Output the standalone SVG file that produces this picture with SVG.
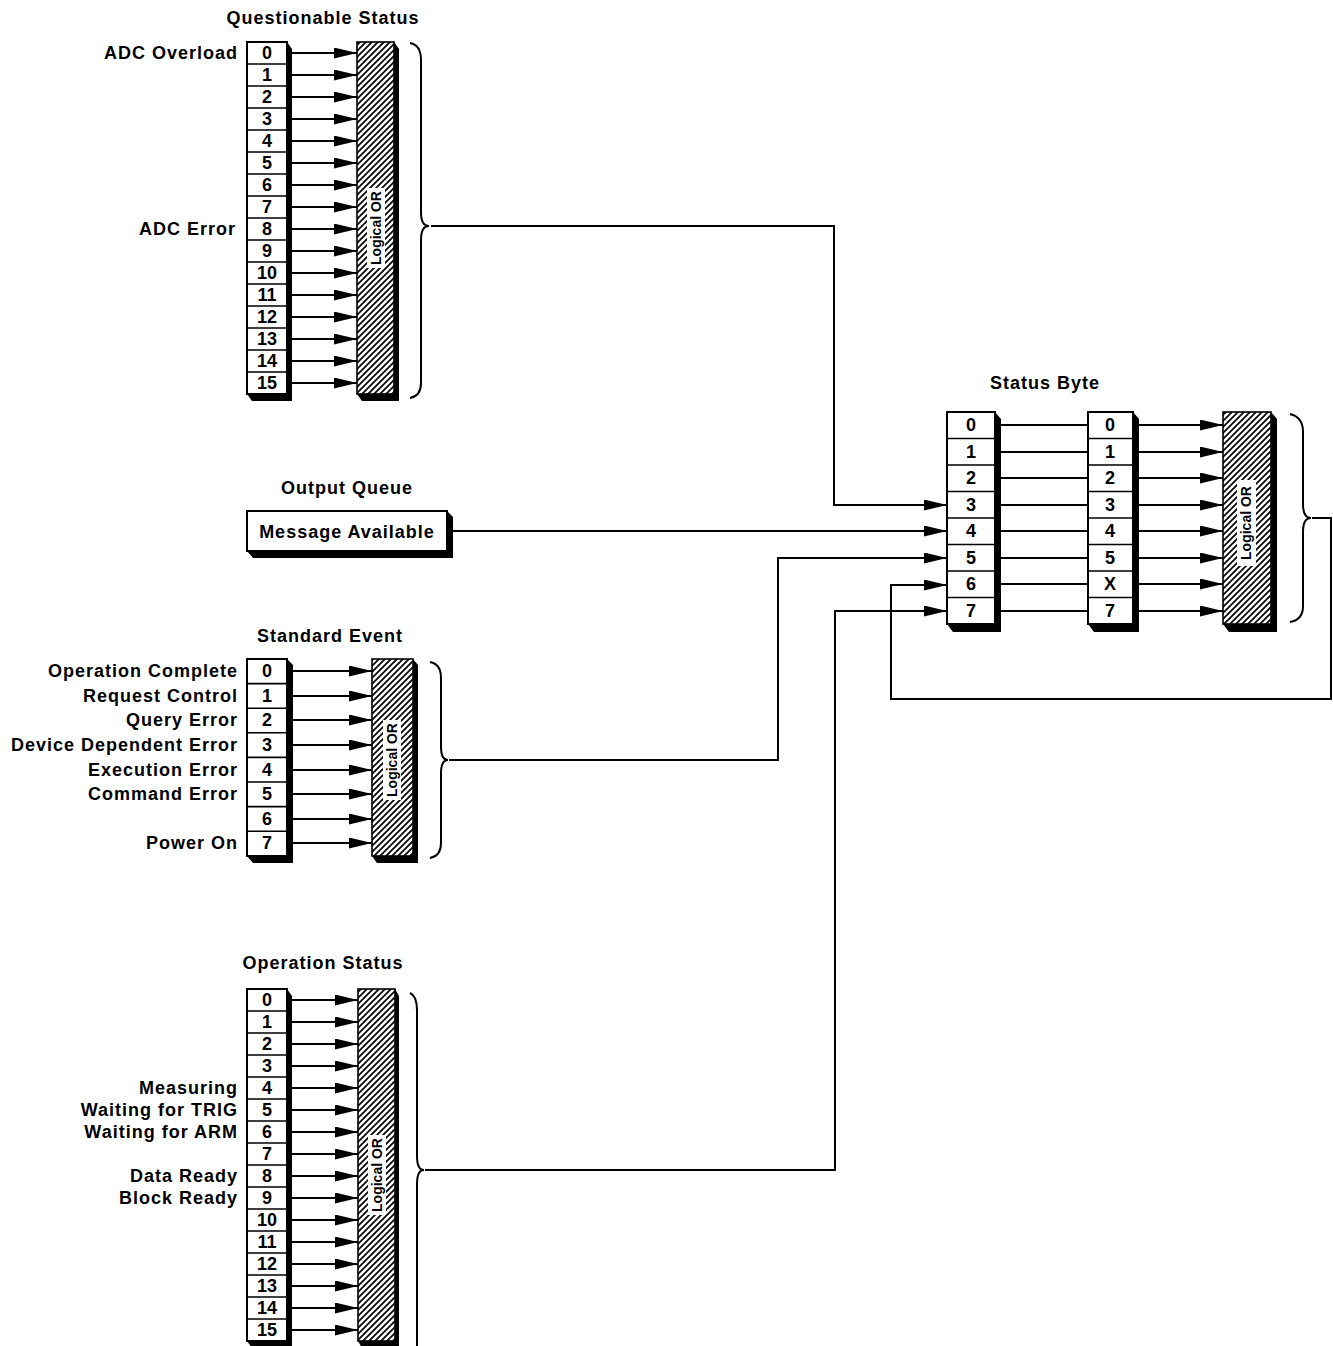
<svg xmlns="http://www.w3.org/2000/svg" width="1333" height="1346" viewBox="0 0 1333 1346">
<defs>
<style>
.t{font-family:"Liberation Sans",Arial,sans-serif;font-weight:bold;font-size:18px;letter-spacing:1px;fill:#000}
.n{font-family:"Liberation Sans",Arial,sans-serif;font-weight:bold;font-size:18px;fill:#000;text-anchor:middle}
.l{text-anchor:end}
.m{text-anchor:middle}
.lo{font-family:"Liberation Sans",Arial,sans-serif;font-weight:bold;font-size:14px;fill:#000;text-anchor:middle}
.box{fill:#fff;stroke:#000;stroke-width:2}
.div{stroke:#000;stroke-width:1.6}
.sh{fill:#000}
.or{fill:url(#hatch);stroke:#000;stroke-width:1.6}
.wb{fill:#fff}
.ln{fill:none;stroke:#000;stroke-width:2}
.ar{fill:none;stroke:#000;stroke-width:2;marker-end:url(#ah)}
.br{fill:none;stroke:#000;stroke-width:2}
</style>
<pattern id="hatch" patternUnits="userSpaceOnUse" width="6" height="6">
<rect width="6" height="6" fill="#fff"/>
<path d="M0,6 L6,0 M-1,1 L1,-1 M5,7 L7,5" stroke="#000" stroke-width="1.7"/>
</pattern>
<marker id="ah" markerUnits="userSpaceOnUse" markerWidth="24" markerHeight="12" refX="23" refY="5.5" orient="auto">
<path d="M0,0 L23,5.5 L0,11 Z" fill="#000"/>
</marker>
</defs>

<g id="questionable-status">
<text class="t m" x="323" y="24">Questionable Status</text>
<text class="t l" x="238" y="59">ADC Overload</text>
<text class="t l" x="236" y="235">ADC Error</text>
<polygon class="sh" points="287,42 292,49 292,401 252,401 247,394"/>
<rect class="box" x="247" y="42" width="40" height="352"/>
<path class="div" d="M247,64H287M247,86H287M247,108H287M247,130H287M247,152H287M247,174H287M247,196H287M247,218H287M247,240H287M247,262H287M247,284H287M247,306H287M247,328H287M247,350H287M247,372H287"/>
<text class="n" x="267" y="59">0</text><text class="n" x="267" y="81">1</text><text class="n" x="267" y="103">2</text><text class="n" x="267" y="125">3</text>
<text class="n" x="267" y="147">4</text><text class="n" x="267" y="169">5</text><text class="n" x="267" y="191">6</text><text class="n" x="267" y="213">7</text>
<text class="n" x="267" y="235">8</text><text class="n" x="267" y="257">9</text><text class="n" x="267" y="279">10</text><text class="n" x="267" y="301">11</text>
<text class="n" x="267" y="323">12</text><text class="n" x="267" y="345">13</text><text class="n" x="267" y="367">14</text><text class="n" x="267" y="389">15</text>
<polygon class="sh" points="394,42 399,49 399,401 362,401 357,394"/>
<rect class="or" x="357" y="42" width="37" height="352"/>
<rect class="wb" x="367" y="188" width="18" height="80"/>
<text class="lo" transform="translate(376,228) rotate(-90)" x="0" y="5">Logical OR</text>
<path class="br" d="M410,43 Q421,45 421,60 L421,212 Q421,226 429,226 Q421,226 421,240 L421,383 Q421,396 410,398"/>
</g>

<g id="output-queue">
<text class="t m" x="347" y="494">Output Queue</text>
<polygon class="sh" points="447,511 453,517 453,558 253,558 247,551"/>
<rect class="box" x="247" y="511" width="200" height="40"/>
<text class="t m" x="347" y="538">Message Available</text>
</g>

<g id="standard-event">
<text class="t m" x="330" y="642">Standard Event</text>
<text class="t l" x="238" y="677">Operation Complete</text>
<text class="t l" x="238" y="702">Request Control</text>
<text class="t l" x="238" y="726">Query Error</text>
<text class="t l" x="238" y="751">Device Dependent Error</text>
<text class="t l" x="238" y="776">Execution Error</text>
<text class="t l" x="238" y="800">Command Error</text>
<text class="t l" x="238" y="849">Power On</text>
<polygon class="sh" points="287,659 293,665 293,863 253,863 247,856"/>
<rect class="box" x="247" y="659" width="40" height="197"/>
<path class="div" d="M247,683.6H287M247,708.2H287M247,732.8H287M247,757.4H287M247,782H287M247,806.6H287M247,831.2H287"/>
<text class="n" x="267" y="677">0</text><text class="n" x="267" y="702">1</text><text class="n" x="267" y="726">2</text><text class="n" x="267" y="751">3</text>
<text class="n" x="267" y="776">4</text><text class="n" x="267" y="800">5</text><text class="n" x="267" y="825">6</text><text class="n" x="267" y="849">7</text>
<polygon class="sh" points="413,659 418,665 418,863 377,863 372,856"/>
<rect class="or" x="372" y="659" width="41" height="197"/>
<rect class="wb" x="383" y="720" width="18" height="80"/>
<text class="lo" transform="translate(392,760) rotate(-90)" x="0" y="5">Logical OR</text>
<path class="br" d="M430,662 Q441,664 441,678 L441,747 Q441,760 448,760 Q441,760 441,773 L441,843 Q441,856 430,858"/>
</g>

<g id="operation-status">
<text class="t m" x="323" y="969">Operation Status</text>
<text class="t l" x="238" y="1094">Measuring</text>
<text class="t l" x="238" y="1116">Waiting for TRIG</text>
<text class="t l" x="238" y="1138">Waiting for ARM</text>
<text class="t l" x="238" y="1182">Data Ready</text>
<text class="t l" x="238" y="1204">Block Ready</text>
<polygon class="sh" points="287,989 292,996 292,1348 252,1348 247,1341"/>
<rect class="box" x="247" y="989" width="40" height="352"/>
<path class="div" d="M247,1011H287M247,1033H287M247,1055H287M247,1077H287M247,1099H287M247,1121H287M247,1143H287M247,1165H287M247,1187H287M247,1209H287M247,1231H287M247,1253H287M247,1275H287M247,1297H287M247,1319H287"/>
<text class="n" x="267" y="1006">0</text><text class="n" x="267" y="1028">1</text><text class="n" x="267" y="1050">2</text><text class="n" x="267" y="1072">3</text>
<text class="n" x="267" y="1094">4</text><text class="n" x="267" y="1116">5</text><text class="n" x="267" y="1138">6</text><text class="n" x="267" y="1160">7</text>
<text class="n" x="267" y="1182">8</text><text class="n" x="267" y="1204">9</text><text class="n" x="267" y="1226">10</text><text class="n" x="267" y="1248">11</text>
<text class="n" x="267" y="1270">12</text><text class="n" x="267" y="1292">13</text><text class="n" x="267" y="1314">14</text><text class="n" x="267" y="1336">15</text>
<polygon class="sh" points="395,989 399,996 399,1348 362,1348 358,1341"/>
<rect class="or" x="358" y="989" width="37" height="352"/>
<rect class="wb" x="368" y="1135" width="18" height="80"/>
<text class="lo" transform="translate(377,1175) rotate(-90)" x="0" y="5">Logical OR</text>
<path class="br" d="M410,993 Q417,996 417,1010 L417,1156 Q417,1170 424,1170 Q417,1170 417,1184 L417,1346"/>
</g>

<g id="status-byte">
<text class="t m" x="1045" y="389">Status Byte</text>
<polygon class="sh" points="995,412 1001,419 1001,632 953,632 947,624"/>
<rect class="box" x="947" y="412" width="48" height="212"/>
<path class="div" d="M947,438.5H995M947,465H995M947,491.5H995M947,518H995M947,544.5H995M947,571H995M947,597.5H995"/>
<text class="n" x="971" y="431">0</text><text class="n" x="971" y="458">1</text><text class="n" x="971" y="484">2</text><text class="n" x="971" y="511">3</text>
<text class="n" x="971" y="537">4</text><text class="n" x="971" y="564">5</text><text class="n" x="971" y="590">6</text><text class="n" x="971" y="617">7</text>
</g>

<g id="status-byte-enable">
<polygon class="sh" points="1133,412 1139,419 1139,632 1094,632 1088,624"/>
<rect class="box" x="1088" y="412" width="45" height="212"/>
<path class="div" d="M1088,438.5H1133M1088,465H1133M1088,491.5H1133M1088,518H1133M1088,544.5H1133M1088,571H1133M1088,597.5H1133"/>
<text class="n" x="1110" y="431">0</text><text class="n" x="1110" y="458">1</text><text class="n" x="1110" y="484">2</text><text class="n" x="1110" y="511">3</text>
<text class="n" x="1110" y="537">4</text><text class="n" x="1110" y="564">5</text><text class="n" x="1110" y="590">X</text><text class="n" x="1110" y="617">7</text>
</g>

<g id="status-byte-or">
<polygon class="sh" points="1271,412 1277,419 1277,632 1229,632 1223,624"/>
<rect class="or" x="1223" y="412" width="48" height="212"/>
<rect class="wb" x="1237" y="480" width="19" height="86"/>
<text class="lo" transform="translate(1246,523) rotate(-90)" x="0" y="5">Logical OR</text>
<path class="br" d="M1290,414 Q1303,417 1303,432 L1303,504 Q1303,518 1311,518 Q1303,518 1303,532 L1303,606 Q1303,620 1290,622"/>
</g>

<g id="connectors">
<path class="ar" d="M292,53H357"/><path class="ar" d="M292,75H357"/><path class="ar" d="M292,97H357"/><path class="ar" d="M292,119H357"/>
<path class="ar" d="M292,141H357"/><path class="ar" d="M292,163H357"/><path class="ar" d="M292,185H357"/><path class="ar" d="M292,207H357"/>
<path class="ar" d="M292,229H357"/><path class="ar" d="M292,251H357"/><path class="ar" d="M292,273H357"/><path class="ar" d="M292,295H357"/>
<path class="ar" d="M292,317H357"/><path class="ar" d="M292,339H357"/><path class="ar" d="M292,361H357"/><path class="ar" d="M292,383H357"/>

<path class="ar" d="M293,671H372"/><path class="ar" d="M293,696H372"/><path class="ar" d="M293,720H372"/><path class="ar" d="M293,745H372"/>
<path class="ar" d="M293,770H372"/><path class="ar" d="M293,794H372"/><path class="ar" d="M293,819H372"/><path class="ar" d="M293,843H372"/>

<path class="ar" d="M292,1000H358"/><path class="ar" d="M292,1022H358"/><path class="ar" d="M292,1044H358"/><path class="ar" d="M292,1066H358"/>
<path class="ar" d="M292,1088H358"/><path class="ar" d="M292,1110H358"/><path class="ar" d="M292,1132H358"/><path class="ar" d="M292,1154H358"/>
<path class="ar" d="M292,1176H358"/><path class="ar" d="M292,1198H358"/><path class="ar" d="M292,1220H358"/><path class="ar" d="M292,1242H358"/>
<path class="ar" d="M292,1264H358"/><path class="ar" d="M292,1286H358"/><path class="ar" d="M292,1308H358"/><path class="ar" d="M292,1330H358"/>

<path class="ln" d="M1001,425H1088M1001,452H1088M1001,478H1088M1001,505H1088M1001,531H1088M1001,558H1088M1001,584H1088M1001,611H1088"/>
<path class="ar" d="M1139,425H1223"/><path class="ar" d="M1139,452H1223"/><path class="ar" d="M1139,478H1223"/><path class="ar" d="M1139,505H1223"/>
<path class="ar" d="M1139,531H1223"/><path class="ar" d="M1139,558H1223"/><path class="ar" d="M1139,584H1223"/><path class="ar" d="M1139,611H1223"/>

<path class="ar" d="M431,226H834V505H947"/>
<path class="ar" d="M453,531H947"/>
<path class="ar" d="M449,760H778V558H947"/>
<path class="ar" d="M425,1170H835V611H947"/>
<path class="ar" d="M1312,518H1331V699H891V585H947"/>
</g>
</svg>
